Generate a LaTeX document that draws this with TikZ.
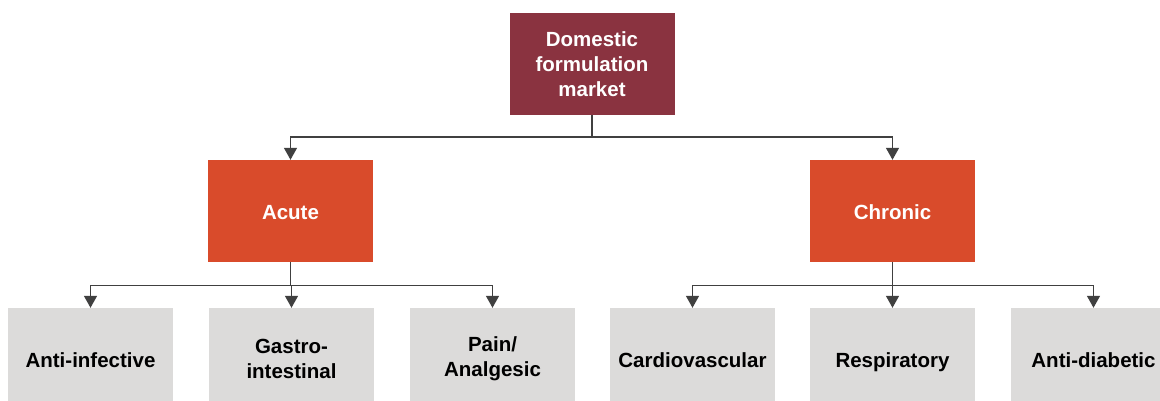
\documentclass[tikz,border=0pt]{standalone}
\usepackage{fontspec}
\setmainfont{Liberation Sans}
\usetikzlibrary{arrows.meta}
\definecolor{maroon}{HTML}{8A3340}
\definecolor{orangered}{HTML}{D94B2B}
\definecolor{lightgrey}{HTML}{DCDBDA}
\definecolor{linegrey}{HTML}{404040}
\begin{document}
\begin{tikzpicture}[x=1pt,y=-1pt,
  boxbase/.style={rectangle, minimum width=165pt, minimum height=102pt, inner sep=0pt, align=center,
    font=\bfseries\fontsize{20.5}{25}\selectfont},
  oneline/.style={text height=16.6pt, text depth=0pt},
  topbox/.style={boxbase, fill=maroon, text=white},
  midbox/.style={boxbase, oneline, fill=orangered, text=white},
  leafbox/.style={boxbase, fill=lightgrey, text=black},
  conn/.style={draw=linegrey, line width=1.4pt, -{Triangle[width=13pt,length=12pt]}}]
\useasboundingbox (0,0) rectangle (1160,401);
\clip (0,0) rectangle (1160,401);
\node[topbox] (top) at (592,64) {Domestic\\formulation\\market};
\node[midbox] (acute) at (290.5,211) {Acute};
\node[midbox] (chronic) at (892.5,211) {Chronic};
\node[leafbox, oneline] (l1) at (90.5,359) {Anti-infective};
\node[leafbox] (l2) at (291.5,359) {Gastro-\\intestinal};
\node[leafbox] (l3) at (492.5,359) {Pain/\\Analgesic};
\node[leafbox, oneline] (l4) at (692.5,359) {Cardiovascular};
\node[leafbox, oneline] (l5) at (892.5,359) {Respiratory};
\node[leafbox, oneline] (l6) at (1093.5,359) {Anti-diabetic};
\draw[conn] (top.south) -- ++(0,22) -| (acute.north);
\draw[conn] (top.south) -- ++(0,22) -| (chronic.north);
\draw[conn] (acute.south) -- ++(0,23) -| (l1.north);
\draw[conn] (acute.south) -- ++(0,23) -| (l2.north);
\draw[conn] (acute.south) -- ++(0,23) -| (l3.north);
\draw[conn] (chronic.south) -- ++(0,23) -| (l4.north);
\draw[conn] (chronic.south) -- ++(0,23) -| (l5.north);
\draw[conn] (chronic.south) -- ++(0,23) -| (l6.north);
\end{tikzpicture}
\end{document}
